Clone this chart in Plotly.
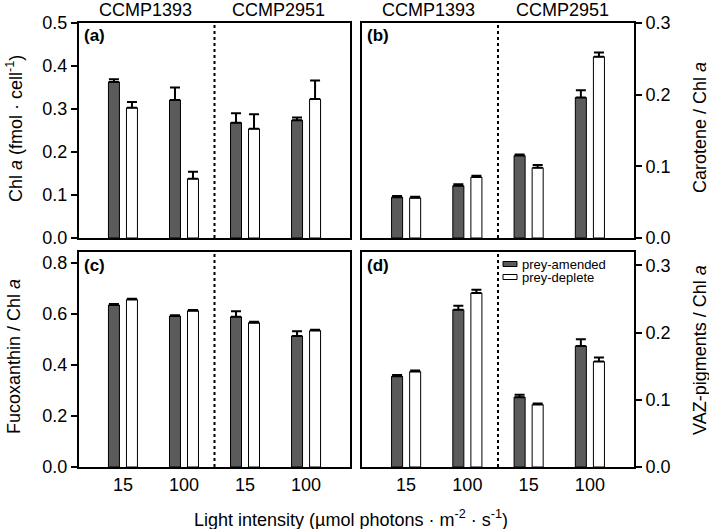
import plotly.graph_objects as go

W, H = 709, 529
FONT = "Liberation Sans, Arial, sans-serif"

light_labels = ["15", "100", "15", "100"]
strains = ["CCMP1393", "CCMP2951"]
series_names = ["prey-amended", "prey-deplete"]

# panel (a) Chl a (fmol cell-1)
chl_amended = [0.363, 0.321, 0.268, 0.274]
chl_amended_err = [0.006, 0.029, 0.022, 0.006]
chl_deplete = [0.303, 0.138, 0.254, 0.323]
chl_deplete_err = [0.013, 0.016, 0.034, 0.043]

# panel (b) Carotene / Chl a
car_amended = [0.057, 0.073, 0.115, 0.196]
car_amended_err = [0.0015, 0.002, 0.0015, 0.010]
car_deplete = [0.056, 0.085, 0.098, 0.253]
car_deplete_err = [0.0015, 0.002, 0.004, 0.006]

# panel (c) Fucoxanthin / Chl a
fuco_amended = [0.635, 0.592, 0.589, 0.514]
fuco_amended_err = [0.004, 0.003, 0.022, 0.018]
fuco_deplete = [0.657, 0.613, 0.566, 0.535]
fuco_deplete_err = [0.003, 0.003, 0.004, 0.003]

# panel (d) VAZ-pigments / Chl a
vaz_amended = [0.135, 0.234, 0.104, 0.180]
vaz_amended_err = [0.002, 0.006, 0.0035, 0.010]
vaz_deplete = [0.142, 0.259, 0.093, 0.157]
vaz_deplete_err = [0.0015, 0.005, 0.0015, 0.006]

DARK = "#5b5b5b"

def px_x(p):
    return p / W

def px_y(p):
    return 1 - p / H

panels = [
    dict(xa="x", ya="y", dx=(79, 350), dy=(23, 238), rng=[0, 0.5], dt=0.1, side="left",
         am=chl_amended, ame=chl_amended_err, de=chl_deplete, dee=chl_deplete_err, lab="(a)", xt=False),
    dict(xa="x2", ya="y2", dx=(362, 634), dy=(23, 238), rng=[0, 0.3], dt=0.1, side="right",
         am=car_amended, ame=car_amended_err, de=car_deplete, dee=car_deplete_err, lab="(b)", xt=False),
    dict(xa="x3", ya="y3", dx=(79, 350), dy=(252, 467), rng=[0, 0.843], dt=0.2, side="left",
         am=fuco_amended, ame=fuco_amended_err, de=fuco_deplete, dee=fuco_deplete_err, lab="(c)", xt=True),
    dict(xa="x4", ya="y4", dx=(362, 634), dy=(252, 467), rng=[0, 0.32], dt=0.1, side="right",
         am=vaz_amended, ame=vaz_amended_err, de=vaz_deplete, dee=vaz_deplete_err, lab="(d)", xt=True),
]

fig = go.Figure()
xpos = list(range(len(light_labels)))

layout = dict(
    width=W, height=H, margin=dict(l=0, r=0, t=0, b=0, autoexpand=False),
    paper_bgcolor="white", plot_bgcolor="white",
    barmode="group", bargap=0.41, bargroupgap=0.39,
    font=dict(family=FONT, size=18, color="black"),
    showlegend=False,
)
annotations = []
shapes = []

for i, p in enumerate(panels):
    xa, ya = p["xa"], p["ya"]
    for name, vals, errs, color in [
        (series_names[0], p["am"], p["ame"], DARK),
        (series_names[1], p["de"], p["dee"], "white"),
    ]:
        fig.add_trace(go.Bar(
            x=xpos, y=vals, name=name, xaxis=xa, yaxis=ya,
            marker=dict(color=color, line=dict(color="black", width=1)),
            error_y=dict(type="data", array=errs, arrayminus=[0] * len(errs),
                         symmetric=False, color="black", thickness=2, width=5),
        ))
    xkey = "xaxis" + ("" if xa == "x" else xa[1:])
    ykey = "yaxis" + ("" if ya == "y" else ya[1:])
    layout[xkey] = dict(
        domain=[px_x(p["dx"][0]), px_x(p["dx"][1])], anchor=ya, range=[-0.72, 3.72],
        tickmode="array", tickvals=xpos, ticktext=light_labels,
        showticklabels=p["xt"], ticks="", showline=True, linecolor="black", linewidth=2,
        mirror=True, showgrid=False, zeroline=False, tickfont=dict(size=18),
        automargin=False,
    )
    layout[ykey] = dict(
        domain=[px_y(p["dy"][1]), px_y(p["dy"][0])], anchor=xa, range=p["rng"],
        side=p["side"], dtick=p["dt"], tick0=0, tickformat=".1f", ticks="outside", ticklen=6,
        tickwidth=1.5, tickcolor="black",
        showline=True, linecolor="black", linewidth=2, mirror=True, showgrid=False,
        zeroline=False, tickfont=dict(size=18), automargin=False,
    )
    # dotted separator between strains
    shapes.append(dict(type="line", xref=xa, yref=ya + " domain", x0=1.5, x1=1.5, y0=0, y1=1,
                       line=dict(color="black", width=2, dash="dot")))
    # panel letter
    annotations.append(dict(text="<b>" + p["lab"] + "</b>", xref="paper", yref="paper",
                            x=px_x(p["dx"][0] + 3), y=px_y(p["dy"][0] + 13), xanchor="left",
                            yanchor="middle", showarrow=False, font=dict(size=17)))

# strain labels above top panels
for xa in ["x", "x2"]:
    for s, xv in zip(strains, [0.37, 2.55]):
        annotations.append(dict(text=s, xref=xa, yref="paper", x=xv, y=px_y(10),
                                xanchor="center", yanchor="middle", showarrow=False,
                                font=dict(size=18)))

# y-axis titles
ytitles = [
    ("Chl <i>a</i> (fmol · cell<sup>-1</sup>)", 14, 129),
    ("Carotene / Chl <i>a</i>", 700, 128),
    ("Fucoxanthin / Chl <i>a</i>", 14, 357),
    ("VAZ-pigments / Chl <i>a</i>", 700, 350),
]
for t, xp, yp in ytitles:
    annotations.append(dict(text=t, xref="paper", yref="paper", x=px_x(xp), y=px_y(yp),
                            xanchor="center", yanchor="middle", textangle=-90,
                            showarrow=False, font=dict(size=18)))

annotations.append(dict(text="Light intensity (µmol photons · m<sup>-2</sup> · s<sup>-1</sup>)",
                        xref="paper", yref="paper", x=px_x(351), y=px_y(518),
                        xanchor="center", yanchor="middle", showarrow=False,
                        font=dict(size=18)))

# legend (panel d)
legend_items = [(series_names[0], DARK, 264), (series_names[1], "white", 277)]
for name, color, yc in legend_items:
    shapes.append(dict(type="rect", xref="paper", yref="paper",
                       x0=px_x(503), x1=px_x(517), y0=px_y(yc + 2.5), y1=px_y(yc - 2.5),
                       fillcolor=color, line=dict(color="black", width=1)))
    annotations.append(dict(text=name, xref="paper", yref="paper", x=px_x(520), y=px_y(yc),
                            xanchor="left", yanchor="middle", showarrow=False,
                            font=dict(size=13)))

layout["annotations"] = annotations
layout["shapes"] = shapes
fig.update_layout(**layout)
fig.write_html("out.html", config={"displayModeBar": False},
               post_script="document.body.style.margin='0px';document.body.style.overflow='hidden';")
